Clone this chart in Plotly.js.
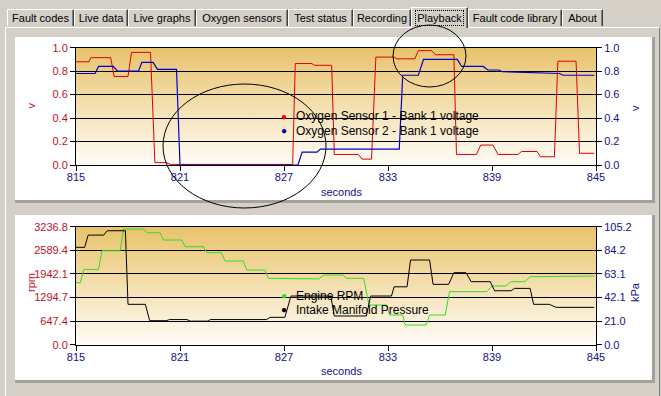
<!DOCTYPE html>
<html>
<head>
<meta charset="utf-8">
<script src="https://cdn.plot.ly/plotly-3.0.1.min.js"></script>
<style>
  html, body { margin: 0; padding: 0; }
  body { width: 661px; height: 396px; background: #d4d0c8; position: relative; overflow: hidden;
         font-family: "Liberation Sans", Arial, sans-serif; }
  .tab { position: absolute; top: 9px; height: 17px; background: #d4d0c8; box-sizing: border-box;
         border-top: 1px solid #ffffff; border-left: 1px solid #ffffff; border-right: 1px solid #404040;
         box-shadow: inset -1px 0 0 #808080; font-size: 11px; line-height: 16px; text-align: center; color: #000; white-space: nowrap; }
  .tab.sel { top: 7px; height: 21px; z-index: 3; }
  .tab.sel span { outline: 1px dotted #000; padding: 1px 1px; }
  #frame { position: absolute; left: 5px; top: 27px; width: 655px; height: 372px; box-sizing: border-box;
           border-top: 1px solid #ffffff; border-left: 1px solid #ffffff; border-right: 1px solid #808080; z-index: 1; }
  .panel { position: absolute; left: 15px; width: 640px; background: #ffffff; box-sizing: border-box;
           border-right: 3px solid #a4a09a; border-bottom: 3px solid #a4a09a; z-index: 2; }
  #chart { position: absolute; left: 0; top: 0; width: 661px; height: 396px; z-index: 5; }
</style>
</head>
<body>
<div id="frame"></div>
<div class="panel" style="top:37px;height:166px;"></div>
<div class="panel" style="top:215px;height:168px;"></div>
<div id="tabs"></div>
<div id="chart"></div>
<script>
// ---------- data ----------
const tabNames = ["Fault codes", "Live data", "Live graphs", "Oxygen sensors", "Test status", "Recording", "Playback", "Fault code library", "About"];

const xTicks = [815, 821, 827, 833, 839, 845];
const voltTicks = [0.0, 0.2, 0.4, 0.6, 0.8, 1.0];
const voltTickText = ["0.0", "0.2", "0.4", "0.6", "0.8", "1.0"];
const rpmTicks = [0.0, 647.4, 1294.7, 1942.1, 2589.4, 3236.8];
const rpmTickText = ["0.0", "647.4", "1294.7", "1942.1", "2589.4", "3236.8"];
const kpaTicks = [0.0, 21.0, 42.1, 63.1, 84.2, 105.2];
const kpaTickText = ["0.0", "21.0", "42.1", "63.1", "84.2", "105.2"];

// Oxygen Sensor 1 - Bank 1 voltage
const s1Time = [815, 815.75, 815.85, 817.0, 817.2, 818.0, 818.2, 819.3, 819.55, 820.2, 820.45, 827.5, 827.65, 828.6, 828.75, 829.75, 829.9, 831.3, 831.5, 832.05, 832.3, 833.35, 833.5, 834.55, 834.75, 835.5, 835.75, 836.8, 836.95, 838.1, 838.35, 839.05, 839.35, 840.5, 840.7, 841.6, 841.8, 842.6, 842.8, 843.85, 844.05, 844.9];
const s1Volt = [0.88, 0.88, 0.915, 0.915, 0.755, 0.755, 0.96, 0.96, 0.02, 0.02, 0.005, 0.005, 0.865, 0.865, 0.85, 0.85, 0.09, 0.09, 0.05, 0.05, 0.92, 0.92, 0.905, 0.905, 0.975, 0.975, 0.94, 0.94, 0.09, 0.09, 0.17, 0.17, 0.09, 0.09, 0.115, 0.115, 0.07, 0.07, 0.885, 0.885, 0.10, 0.10];

// Oxygen Sensor 2 - Bank 1 voltage
const s2Time = [815, 816.1, 816.3, 817.15, 817.4, 818.6, 818.8, 819.45, 819.7, 820.8, 821.0, 827.8, 828.05, 828.9, 829.1, 833.65, 833.85, 834.75, 835.05, 837.0, 837.25, 838.5, 838.75, 839.4, 839.6, 840.8, 841.0, 842.9, 843.1, 844.9];
const s2Volt = [0.78, 0.78, 0.84, 0.84, 0.80, 0.80, 0.875, 0.875, 0.815, 0.815, 0.0, 0.0, 0.11, 0.11, 0.135, 0.135, 0.765, 0.765, 0.90, 0.90, 0.84, 0.84, 0.81, 0.81, 0.795, 0.79, 0.785, 0.78, 0.765, 0.765];

// Engine RPM
const rpmTime = [815, 815.25, 815.45, 816.3, 816.5, 817.55, 817.75, 818.9, 819.1, 819.85, 820.05, 821.1, 821.3, 822.35, 822.55, 823.4, 823.6, 824.65, 824.85, 825.9, 826.1, 827.3, 827.5, 829.0, 829.3, 830.4, 830.6, 831.6, 831.9, 832.9, 833.1, 833.85, 834.0, 835.2, 835.4, 836.3, 836.55, 838.7, 839.0, 839.8, 840.1, 840.9, 841.2, 843.5, 843.7, 844.9];
const engineRpm = [1700, 1700, 2066, 2066, 2579, 2579, 3173, 3173, 3072, 3072, 2871, 2871, 2688, 2688, 2524, 2524, 2295, 2295, 2048, 2048, 1820, 1820, 1805, 1805, 1911, 1911, 1820, 1820, 1088, 1088, 814, 814, 540, 540, 814, 814, 1454, 1454, 1609, 1609, 1728, 1728, 1865, 1865, 1884, 1884];

// Intake Manifold Pressure
const mapTime = [815, 815.5, 815.7, 816.6, 816.8, 817.85, 818.0, 819.0, 819.25, 820.2, 820.4, 821.4, 821.6, 822.6, 822.75, 826.0, 826.2, 827.05, 827.4, 829.7, 829.9, 831.75, 832.0, 833.2, 833.35, 834.1, 834.3, 835.4, 835.6, 836.5, 836.8, 837.5, 837.8, 838.9, 839.15, 840.1, 840.3, 841.2, 841.4, 842.3, 842.7, 844.9];
const intakePressure = [86.8, 86.8, 97.7, 97.7, 101.6, 101.6, 36.0, 36.0, 21.4, 21.4, 22.4, 22.4, 21.0, 21.0, 22.4, 22.4, 24.4, 24.4, 43.4, 43.4, 25.6, 25.6, 43.4, 43.4, 51.6, 51.6, 75.5, 75.5, 53.8, 53.8, 64.2, 64.2, 56.2, 56.2, 48.1, 48.1, 50.2, 50.2, 36.0, 36.0, 33.3, 33.3];

// ---------- tabs (HTML) ----------
const tabBox = [[7,67],[74,54],[128,68],[196,92],[288,65],[353,58],[411,57],[468,94],[562,41]];
const tabsEl = document.getElementById('tabs');
tabNames.forEach((name, i) => {
  const d = document.createElement('div');
  d.className = 'tab' + (name === 'Playback' ? ' sel' : '');
  d.style.left = tabBox[i][0] + 'px';
  d.style.width = tabBox[i][1] + 'px';
  if (name === 'Playback') { d.style.lineHeight = '20px'; }
  const s = document.createElement('span');
  s.textContent = name;
  d.appendChild(s);
  tabsEl.appendChild(d);
});

// ---------- chart ----------
const W = 661, H = 396;
const FONT = '"Liberation Sans", Arial, sans-serif';
const RED = '#c0101e', NAVY = '#10108c';
const px = v => v / W;
const py = v => 1 - v / H;

const gradSvg = '<svg xmlns="http://www.w3.org/2000/svg" width="10" height="100" preserveAspectRatio="none">' +
  '<defs><linearGradient id="g" x1="0" y1="0" x2="0" y2="1">' +
  '<stop offset="0" stop-color="#e8c36c"/><stop offset="0.5" stop-color="#f4dfb0"/><stop offset="1" stop-color="#fffdf8"/>' +
  '</linearGradient></defs><rect width="10" height="100" fill="url(#g)"/></svg>';
const gradSrc = 'data:image/svg+xml;charset=utf-8,' + encodeURIComponent(gradSvg);

const xDomain = [px(76), px(596)];
const topDomain = [py(165), py(47.7)];
const botDomain = [py(344.7), py(226.7)];

const tickFont = c => ({ family: FONT, size: 11, color: c });

function xAxis(anchor) {
  return {
    domain: xDomain, anchor: anchor, range: [815, 845], tickvals: xTicks, ticktext: xTicks.map(String),
    showline: true, linecolor: '#000', linewidth: 1, mirror: true, ticks: 'outside', ticklen: 5, tickcolor: '#000',
    ticklabelstandoff: -3,
    showgrid: false, zeroline: false, tickfont: tickFont(NAVY), fixedrange: true
  };
}
function yAxis(domain, anchor, range, vals, text, color, side, overlay, grid) {
  const a = {
    anchor: anchor, range: range, tickvals: vals, ticktext: text, side: side,
    showline: true, linecolor: '#000', linewidth: 1, ticks: 'outside', ticklen: 5, tickcolor: '#000',
    showgrid: grid, gridcolor: '#000', gridwidth: 1, zeroline: false, tickfont: tickFont(color), fixedrange: true
  };
  if (overlay) a.overlaying = overlay; else a.domain = domain;
  return a;
}

const traces = [
  { x: s1Time, y: s1Volt, xaxis: 'x', yaxis: 'y', mode: 'lines', line: { color: '#e00000', width: 1 }, name: 'Oxygen Sensor 1 - Bank 1 voltage', hoverinfo: 'skip' },
  { x: s2Time, y: s2Volt, xaxis: 'x', yaxis: 'y2', mode: 'lines', line: { color: '#0000d0', width: 1.2 }, name: 'Oxygen Sensor 2 - Bank 1 voltage', hoverinfo: 'skip' },
  { x: rpmTime, y: engineRpm, xaxis: 'x2', yaxis: 'y3', mode: 'lines', line: { color: '#33dd22', width: 1 }, name: 'Engine RPM', hoverinfo: 'skip' },
  { x: mapTime, y: intakePressure, xaxis: 'x2', yaxis: 'y4', mode: 'lines', line: { color: '#000000', width: 1 }, name: 'Intake Manifold Pressure', hoverinfo: 'skip' }
];

function ann(x, y, text, color, size, angle, xanchor) {
  return { xref: 'paper', yref: 'paper', x: px(x), y: py(y), text: text, showarrow: false,
           font: { family: FONT, size: size, color: color }, textangle: angle || 0,
           xanchor: xanchor || 'center', yanchor: 'middle' };
}

const layout = {
  width: W, height: H, margin: { l: 0, r: 0, t: 0, b: 0 },
  paper_bgcolor: 'rgba(0,0,0,0)', plot_bgcolor: 'rgba(0,0,0,0)', showlegend: false,
  font: { family: FONT, size: 11 },
  xaxis: xAxis('y'),
  yaxis: yAxis(topDomain, 'x', [0, 1], voltTicks, voltTickText, RED, 'left', null, true),
  yaxis2: yAxis(null, 'x', [0, 1], voltTicks, voltTickText, NAVY, 'right', 'y', false),
  xaxis2: xAxis('y3'),
  yaxis3: yAxis(botDomain, 'x2', [0, 3236.8], rpmTicks, rpmTickText, RED, 'left', null, true),
  yaxis4: yAxis(null, 'x2', [0, 105.2], kpaTicks, kpaTickText, NAVY, 'right', 'y3', false),
  images: [
    { source: gradSrc, xref: 'x domain', yref: 'y domain', x: 0, y: 1, sizex: 1, sizey: 1, sizing: 'stretch', xanchor: 'left', yanchor: 'top', layer: 'below' },
    { source: gradSrc, xref: 'x2 domain', yref: 'y3 domain', x: 0, y: 1, sizex: 1, sizey: 1, sizing: 'stretch', xanchor: 'left', yanchor: 'top', layer: 'below' }
  ],
  shapes: [
    { type: 'circle', xref: 'paper', yref: 'paper', x0: px(163), x1: px(326), y0: py(208), y1: py(84), line: { color: '#000', width: 1 }, layer: 'above' },
    { type: 'circle', xref: 'paper', yref: 'paper', x0: px(393), x1: px(466), y0: py(87), y1: py(25), line: { color: '#000', width: 1 }, layer: 'above' }
  ],
  annotations: [
    ann(30.5, 106, 'v', RED, 11, -90),
    ann(635, 108, 'v', NAVY, 11, -90),
    ann(342, 192, 'seconds', NAVY, 11, 0),
    ann(31, 283, 'rpm', RED, 11, -90),
    ann(635, 292, 'kPa', NAVY, 11, -90),
    ann(342, 371, 'seconds', NAVY, 11, 0),
    // legends
    ann(283.5, 116, '●', '#ff0000', 10, 0),
    ann(283.5, 130.5, '●', '#0000d0', 10, 0),
    ann(294, 116, 'Oxygen Sensor 1 - Bank 1 voltage', '#000', 12, 0, 'left'),
    ann(294, 130.5, 'Oxygen Sensor 2 - Bank 1 voltage', '#000', 12, 0, 'left'),
    ann(283.5, 295.5, '●', '#33dd22', 10, 0),
    ann(283.5, 309.5, '●', '#000000', 10, 0),
    ann(294, 295.5, 'Engine RPM', '#000', 12, 0, 'left'),
    ann(294, 309.5, 'Intake Manifold Pressure', '#000', 12, 0, 'left')
  ]
};

Plotly.newPlot('chart', traces, layout, { staticPlot: true, displayModeBar: false });
</script>
</body>
</html>
